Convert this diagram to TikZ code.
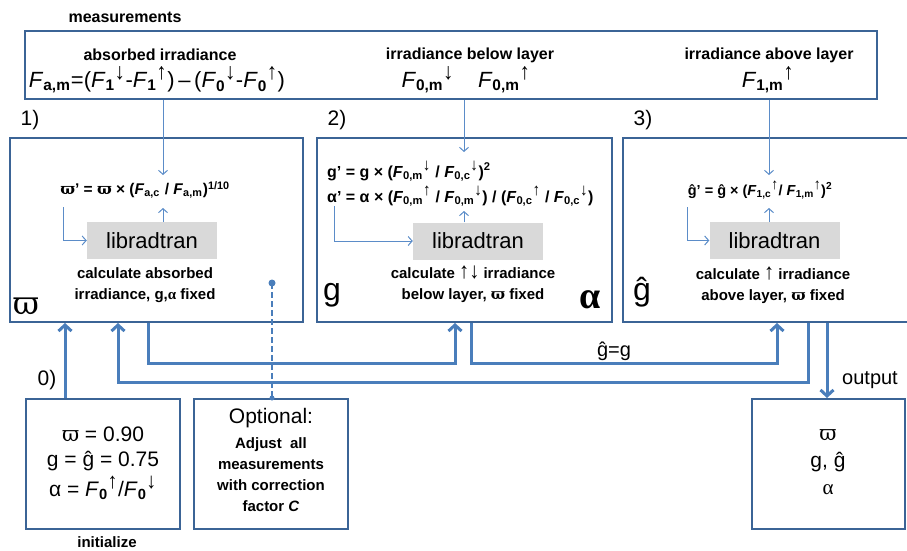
\documentclass[tikz,border=0pt]{standalone}
\usepackage{fontspec}
\usepackage{graphicx}
\setmainfont{Liberation Sans}
\newfontfamily\dvs{DejaVu Serif}
\newfontfamily\lserif{Liberation Serif}
\usetikzlibrary{arrows.meta}
\definecolor{bord}{HTML}{3B6496}
\definecolor{thk}{HTML}{4A7EBB}
\definecolor{thn}{HTML}{5B8CC8}
\definecolor{libg}{HTML}{D9D9D9}
\newcommand{\vpi}{{\dvs ϖ}}
\newcommand{\alp}{{\lserif α}}
\newcommand{\UA}{\scalebox{1.35}[1.5]{↑}}
\newcommand{\DA}{\scalebox{1.35}[1.5]{↓}}
\newcommand{\Fv}[2]{\textit{F}\textsubscript{\textbf{#1}}\textsuperscript{#2}}
\tikzset{
 box/.style={draw=bord, line width=2pt, inner sep=0pt, rectangle},
 lib/.style={fill=libg, inner sep=0pt, minimum width=130pt, minimum height=37pt, font=\fontsize{22}{24}\selectfont},
 thinarr/.style={draw=thn, line width=1pt, -{Straight Barb[length=4pt,width=9pt]}},
 thickarr/.style={draw=thk, line width=3pt, -{Straight Barb[length=6pt,width=13pt]}},
 bsmall/.style={font=\fontsize{15}{21}\selectfont\bfseries, align=center, inner sep=0pt},
 hdr/.style={font=\fontsize{16}{18}\selectfont\bfseries, inner sep=0pt},
 fml/.style={font=\fontsize{22}{24}\selectfont, inner sep=0pt},
 bfml/.style={font=\fontsize{14.5}{25}\selectfont\bfseries, inner sep=0pt},
 numlab/.style={font=\fontsize{21}{24}\selectfont, inner sep=0pt},
 bigsym/.style={font=\fontsize{28}{30}\selectfont, inner sep=0pt},
 mid/.style={font=\fontsize{21}{27}\selectfont, inner sep=0pt},
 dashln/.style={draw=thk, line width=1.5pt, dash pattern=on 6pt off 3pt},
}
\begin{document}
\begin{tikzpicture}[x=1pt,y=-1pt]
\useasboundingbox (0,0) rectangle (907,551);

% measurements
\node[hdr] (mlab) at (125,17) {measurements};
\node[box, minimum width=852pt, minimum height=68pt] (meas) at (451,65) {};
\node[hdr] (h1) at (160,55) {absorbed irradiance};
\node[fml] (m1) at (157,80) {\Fv{a,m}{}=(\Fv{1}{\DA}-\Fv{1}{\UA})\,–\,(\Fv{0}{\DA}-\Fv{0}{\UA})};
\node[hdr] (h2) at (470,55) {irradiance below layer};
\node[fml] (m2) at (466,80) {\Fv{0,m}{\DA}\hspace{24pt}\Fv{0,m}{\UA}};
\node[hdr] (h3) at (769,55) {irradiance above layer};
\node[fml] (m3) at (768,80) {\Fv{1,m}{\UA}};

% step labels
\node[numlab] (n1) at (30,120) {1)};
\node[numlab] (n2) at (337,120) {2)};
\node[numlab] (n3) at (643,120) {3)};
\node[numlab] (n0) at (47,380) {0)};

% boxes
\node[box, minimum width=293pt, minimum height=184pt] (b1) at (156.5,230) {};
\node[box, minimum width=295pt, minimum height=184pt] (b2) at (464.5,230) {};
\node[box, minimum width=287pt, minimum height=184pt] (b3) at (766.5,230) {};

% box 1
\node[bfml, font=\fontsize{15.5}{25}\selectfont\bfseries] (f1) at (145,190) {\vpi' = \vpi{} × (\Fv{a,c}{} / \Fv{a,m}{})\textsuperscript{1/10}};
\node[lib] (lib1) at (152,240.5) {libradtran};
\node[bsmall] (c1) at (145,285) {calculate absorbed\\irradiance, g,\alp{} fixed};
\node[bigsym, font=\fontsize{32}{34}\selectfont] (s1sym) at (26,306) {\vpi};

% box 2
\node[bfml, font=\fontsize{16}{25}\selectfont\bfseries, anchor=west, align=left] (f2) at (327,184) {g' = g × (\Fv{0,m}{\DA} / \Fv{0,c}{\DA})\textsuperscript{2}\\α' = α × (\Fv{0,m}{\UA} / \Fv{0,m}{\DA}) / (\Fv{0,c}{\UA} / \Fv{0,c}{\DA})};
\node[lib] (lib2) at (478,241) {libradtran};
\node[bsmall] (c2) at (473,284) {calculate \UA\DA\ irradiance\\below layer, \vpi{} fixed};
\node[bigsym, font=\fontsize{32}{34}\selectfont] (s2g) at (332,295) {g};
\node[font=\fontsize{38}{40}\selectfont\lserif\bfseries, inner sep=0pt] (s2a) at (590,300) {α};

% box 3
\node[bfml] (f3) at (760,190) {ĝ' = ĝ × (\Fv{1,c}{\UA}/ \Fv{1,m}{\UA})\textsuperscript{2}};
\node[lib] (lib3) at (774.5,240.5) {libradtran};
\node[bsmall] (c3) at (773,285) {calculate \UA\ irradiance\\above layer, \vpi{} fixed};
\node[bigsym, font=\fontsize{32}{34}\selectfont] (s3g) at (642,292) {ĝ};

% bottom boxes
\node[box, minimum width=154pt, minimum height=130pt] (init) at (103,464) {};
\node[mid] (initt1) at (103,434) {\vpi{} = 0.90};
\node[mid] (initt2) at (103,461) {g = ĝ = 0.75};
\node[mid] (initt3) at (103,488) {α = \Fv{0}{\UA}/\Fv{0}{\DA}};
\node[hdr, font=\fontsize{15}{18}\selectfont\bfseries] (initl) at (107,542) {initialize};

\node[box, minimum width=154pt, minimum height=130pt] (opt) at (271,464) {};
\node[font=\fontsize{21}{24}\selectfont, inner sep=0pt] (optt) at (271,418) {Optional:};
\node[bsmall] (optb) at (271,475) {Adjust\ \ all\\measurements\\with correction\\factor \textit{C}};

\node[box, minimum width=153pt, minimum height=130pt] (out) at (828.5,464) {};
\node[mid, align=center] (outt) at (828,462) {\vpi\\g, ĝ\\{\lserif α}};
\node[numlab, font=\fontsize{20}{24}\selectfont] (outl) at (870,380) {output};
\node[numlab, font=\fontsize{20}{24}\selectfont] (gg) at (614,351) {ĝ=g};

% coordinates
\coordinate (t1) at (163,175); \coordinate (u1) at (163,208); \coordinate (sa1) at (63,207);
\coordinate (t2) at (464,152); \coordinate (u2) at (464,211); \coordinate (sa2) at (334,206);
\coordinate (t3) at (769,175); \coordinate (u3) at (769,208); \coordinate (sa3) at (687,207);
\coordinate (x65) at (65,0);
\coordinate (x148) at (148,0);
\coordinate (r12) at (455,363);
\coordinate (x471) at (471,0);
\coordinate (r23) at (777,363);
\coordinate (x808) at (808,0);
\coordinate (r31) at (118,382);
\coordinate (x827) at (827,0);
\coordinate (dot1) at (272,283);

% thin arrows
\draw[thinarr] (meas.south -| t1) -- (t1);
\draw[thinarr] (lib1.north -| u1) -- (u1);
\draw[thinarr] (sa1) |- (lib1.west);
\draw[thinarr] (meas.south -| t2) -- (t2);
\draw[thinarr] (lib2.north -| u2) -- (u2);
\draw[thinarr] (sa2) |- (lib2.west);
\draw[thinarr] (meas.south -| t3) -- (t3);
\draw[thinarr] (lib3.north -| u3) -- (u3);
\draw[thinarr] (sa3) |- (lib3.west);

% thick arrows
\draw[thickarr] (init.north -| x65) -- (b1.south -| x65);
\draw[thickarr] (b1.south -| x148) |- (r12) -- (b2.south -| r12);
\draw[thickarr] (b2.south -| x471) |- (r23) -- (b3.south -| r23);
\draw[thickarr] (b3.south -| x808) |- (r31) -- (b1.south -| r31);
\draw[thickarr] (b3.south -| x827) -- (out.north -| x827);

% dashed optional link
\draw[dashln] (dot1) -- (opt.north -| dot1);
\fill[thk] (dot1) circle (3.5pt);
\fill[thk] (opt.north -| dot1) circle (2.5pt);
\end{tikzpicture}
\end{document}
